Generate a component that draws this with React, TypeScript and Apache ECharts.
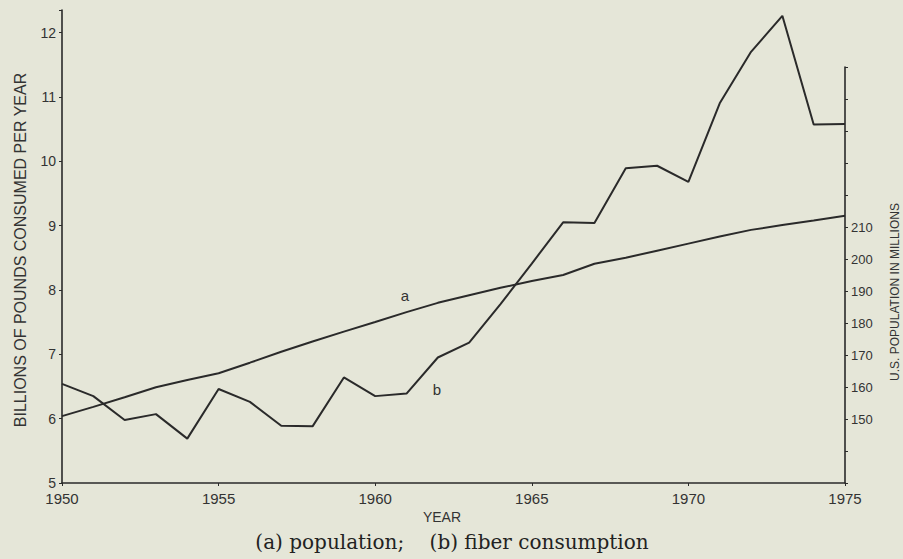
import React, { useEffect, useRef } from "react";
import * as echarts from "echarts";

const years = [1950, 1951, 1952, 1953, 1954, 1955, 1956, 1957, 1958, 1959, 1960, 1961, 1962, 1963, 1964, 1965, 1966, 1967, 1968, 1969, 1970, 1971, 1972, 1973, 1974, 1975];
// (b) fiber consumption, billions of pounds per year
const fiber = [6.54, 6.35, 5.98, 6.07, 5.69, 6.46, 6.26, 5.89, 5.88, 6.64, 6.35, 6.39, 6.95, 7.18, 7.78, 8.41, 9.05, 9.04, 9.89, 9.93, 9.68, 10.9, 11.7, 12.26, 10.57, 10.58];
// (a) US population, millions
const population = [150.9, 153.8, 156.8, 159.9, 162.2, 164.3, 167.6, 171.0, 174.2, 177.3, 180.3, 183.4, 186.3, 188.7, 191.0, 193.1, 195.0, 198.5, 200.4, 202.6, 204.8, 207.0, 209.1, 210.6, 212.0, 213.5];
const leftTicks = [5, 6, 7, 8, 9, 10, 11, 12];
const rightTicks = [150, 160, 170, 180, 190, 200, 210];
const xTicks = [1950, 1955, 1960, 1965, 1970, 1975];

const BG = "#e5e6d8";
const INK = "#2a2a2a";
const TXT = "#333333";
const SANS = "'Liberation Sans', Arial, sans-serif";

export default function App() {
  const ref = useRef<HTMLDivElement>(null);
  useEffect(() => {
    document.body.style.margin = "0";
    document.body.style.background = BG;
    const chart = echarts.init(ref.current!, null, { renderer: "svg" });
    chart.setOption({
      animation: false,
      backgroundColor: BG,
      grid: [
        { left: 62, right: 58, top: 10, bottom: 76 },
        { left: 62, right: 58, top: 67, bottom: 76 },
      ],
      xAxis: [
        {
          type: "value",
          gridIndex: 0,
          min: xTicks[0],
          max: xTicks[xTicks.length - 1],
          interval: 5,
          axisLine: { lineStyle: { color: INK, width: 1.6 } },
          axisTick: { length: 3, lineStyle: { color: INK } },
          splitLine: { show: false },
          axisLabel: {
            color: TXT,
            fontSize: 15,
            fontFamily: SANS,
            margin: 8,
            formatter: (v: number) => (xTicks.includes(v) ? String(v) : ""),
          },
        },
        {
          type: "value",
          gridIndex: 1,
          min: xTicks[0],
          max: xTicks[xTicks.length - 1],
          show: false,
        },
      ],
      yAxis: [
        {
          type: "value",
          gridIndex: 0,
          min: 5,
          max: 12.35,
          interval: 1,
          axisLine: { show: true, lineStyle: { color: INK, width: 1.6 } },
          axisTick: { show: true, length: 3, lineStyle: { color: INK } },
          splitLine: { show: false },
          axisLabel: {
            color: TXT,
            fontSize: 14,
            fontFamily: SANS,
            margin: 6,
            formatter: (v: number) => (leftTicks.includes(v) ? String(v) : ""),
          },
        },
        {
          type: "value",
          gridIndex: 1,
          position: "right",
          min: 130,
          max: 260,
          interval: 10,
          axisLine: { show: true, lineStyle: { color: INK, width: 1.6 } },
          axisTick: { show: true, length: 3, lineStyle: { color: INK } },
          splitLine: { show: false },
          axisLabel: {
            color: TXT,
            fontSize: 13,
            fontFamily: SANS,
            margin: 6,
            formatter: (v: number) => (rightTicks.includes(v) ? String(v) : ""),
          },
        },
      ],
      series: [
        {
          name: "fiber consumption",
          type: "line",
          xAxisIndex: 0,
          yAxisIndex: 0,
          data: years.map((y, i) => [y, fiber[i]]),
          symbol: "none",
          lineStyle: { color: INK, width: 2 },
          markPoint: {
            symbol: "circle",
            symbolSize: 0,
            data: [
              {
                coord: [1961.97, 6.46],
                label: { show: true, position: "inside", formatter: "b", color: TXT, fontSize: 15, fontFamily: SANS },
              },
            ],
          },
        },
        {
          name: "population",
          type: "line",
          xAxisIndex: 1,
          yAxisIndex: 1,
          data: years.map((y, i) => [y, population[i]]),
          symbol: "none",
          lineStyle: { color: INK, width: 2 },
          markPoint: {
            symbol: "circle",
            symbolSize: 0,
            data: [
              {
                coord: [1960.95, 188.75],
                label: { show: true, position: "inside", formatter: "a", color: TXT, fontSize: 15, fontFamily: SANS },
              },
            ],
          },
        },
      ],
      graphic: [
        {
          type: "text",
          x: 20,
          y: 250,
          rotation: Math.PI / 2,
          style: {
            text: "BILLIONS OF POUNDS CONSUMED PER YEAR",
            fill: TXT,
            font: `16px ${SANS}`,
            align: "center",
            verticalAlign: "middle",
          },
        },
        {
          type: "text",
          x: 895,
          y: 292,
          rotation: Math.PI / 2,
          style: {
            text: "U.S. POPULATION IN MILLIONS",
            fill: TXT,
            font: `12px ${SANS}`,
            align: "center",
            verticalAlign: "middle",
          },
        },
        {
          type: "text",
          x: 442,
          y: 517,
          style: {
            text: "YEAR",
            fill: TXT,
            font: `14px ${SANS}`,
            align: "center",
            verticalAlign: "middle",
          },
        },
        {
          type: "text",
          x: 452,
          y: 542,
          style: {
            text: "(a) population;    (b) fiber consumption",
            fill: "#222222",
            font: `20px 'DejaVu Serif', serif`,
            align: "center",
            verticalAlign: "middle",
          },
        },
      ],
    });
    return () => chart.dispose();
  }, []);
  return <div ref={ref} style={{ width: 903, height: 559, background: BG }} />;
}
